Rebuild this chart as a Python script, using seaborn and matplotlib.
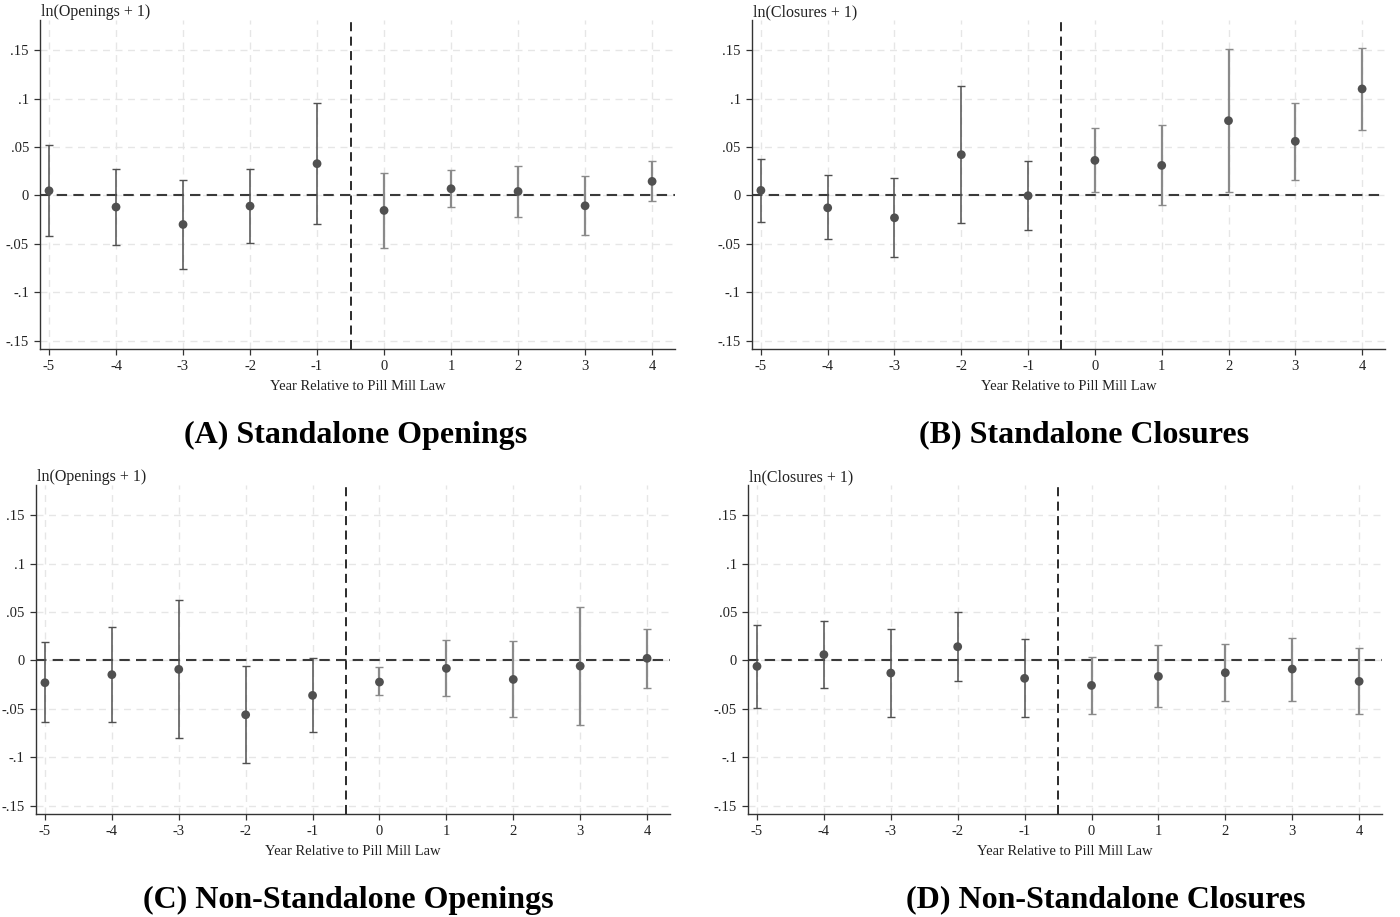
import numpy as np
import pandas as pd
import matplotlib
matplotlib.use("Agg")
import matplotlib.pyplot as plt
import seaborn as sns

# Event-time coefficients with 95% confidence bounds
years = [-5, -4, -3, -2, -1, 0, 1, 2, 3, 4]
year_labels = ["-5", "-4", "-3", "-2", "-1", "0", "1", "2", "3", "4"]

a_coef = [0.0048, -0.0120, -0.0300, -0.0110, 0.0328, -0.0155, 0.0069, 0.0041, -0.0107, 0.0145]
a_upper = [0.0517, 0.0276, 0.0162, 0.0276, 0.0955, 0.0234, 0.0259, 0.0303, 0.0200, 0.0355]
a_lower = [-0.0424, -0.0517, -0.0759, -0.0493, -0.0297, -0.0541, -0.0117, -0.0224, -0.0407, -0.0062]

b_coef = [0.0052, -0.0128, -0.0231, 0.0421, -0.0003, 0.0362, 0.0310, 0.0772, 0.0559, 0.1100]
b_upper = [0.0379, 0.0207, 0.0183, 0.1134, 0.0355, 0.0697, 0.0724, 0.1510, 0.0952, 0.1520]
b_lower = [-0.0276, -0.0452, -0.0641, -0.0286, -0.0355, 0.0034, -0.0103, 0.0034, 0.0162, 0.0679]

c_coef = [-0.0231, -0.0148, -0.0093, -0.0562, -0.0362, -0.0224, -0.0083, -0.0197, -0.0059, 0.0021]
c_upper = [0.0190, 0.0341, 0.0624, -0.0055, 0.0024, -0.0072, 0.0210, 0.0197, 0.0552, 0.0328]
c_lower = [-0.0641, -0.0634, -0.0803, -0.1062, -0.0745, -0.0362, -0.0369, -0.0583, -0.0666, -0.0283]

d_coef = [-0.0062, 0.0059, -0.0131, 0.0141, -0.0186, -0.0259, -0.0166, -0.0128, -0.0090, -0.0217]
d_upper = [0.0369, 0.0403, 0.0328, 0.0503, 0.0217, 0.0038, 0.0155, 0.0169, 0.0234, 0.0124]
d_lower = [-0.0490, -0.0283, -0.0583, -0.0217, -0.0586, -0.0552, -0.0483, -0.0421, -0.0417, -0.0552]

y_ticks = [-0.15, -0.10, -0.05, 0.0, 0.05, 0.10, 0.15]
y_tick_labels = ["-.15", "-.1", "-.05", "0", ".05", ".1", ".15"]

panels = [
    ("ln(Openings + 1)", "(A) Standalone Openings", a_coef, a_lower, a_upper),
    ("ln(Closures + 1)", "(B) Standalone Closures", b_coef, b_lower, b_upper),
    ("ln(Openings + 1)", "(C) Non-Standalone Openings", c_coef, c_lower, c_upper),
    ("ln(Closures + 1)", "(D) Non-Standalone Closures", d_coef, d_lower, d_upper),
]

sns.set_theme(style="white")
plt.rcParams["font.family"] = ["Liberation Serif", "DejaVu Serif"]

fig = plt.figure(figsize=(14, 9.17), dpi=100)

# axes rectangles [left, bottom, width, height] in figure fractions
rects = [
    [0.0286, 0.619, 0.4536, 0.359],
    [0.5371, 0.619, 0.4522, 0.359],
    [0.0257, 0.112, 0.4529, 0.359],
    [0.5343, 0.112, 0.4529, 0.359],
]
title_pos = [(0.254, 0.5255), (0.774, 0.5255), (0.249, 0.0185), (0.790, 0.0185)]

pre_color = "#505050"
post_color = "#8a8a8a"
grid_color = "#e6e6e6"

for rect, (ylab, title, coef, lower, upper), tpos in zip(rects, panels, title_pos):
    ax = fig.add_axes(rect)
    df = pd.DataFrame({"year": years, "coef": coef, "lower": lower, "upper": upper})
    df["period"] = np.where(df["year"] < 0, "pre", "post")

    ax.set_xlim(-5.134, 4.343)
    ax.set_ylim(-0.159, 0.181)

    # light dashed grid at every tick
    for yv in y_ticks:
        ax.axhline(yv, color=grid_color, lw=1.0, ls=(0, (5, 4)), zorder=0)
    for xv in years:
        ax.axvline(xv, color=grid_color, lw=1.0, ls=(0, (5, 4)), zorder=0)

    ax.axhline(0, color="#3a3a3a", lw=1.5, ls=(0, (5, 3)), zorder=1)
    ax.axvline(-0.5, color="#1a1a1a", lw=1.3, ls=(0, (5, 3)), zorder=1)

    for period, color, lw in [("pre", pre_color, 1.1), ("post", post_color, 1.6)]:
        sub = df[df["period"] == period]
        yerr = np.vstack([sub["coef"] - sub["lower"], sub["upper"] - sub["coef"]])
        ax.errorbar(sub["year"], sub["coef"], yerr=yerr, fmt="none",
                    ecolor=color, elinewidth=lw, capsize=3, capthick=1.0, zorder=2)

    sns.scatterplot(data=df, x="year", y="coef", ax=ax, color="#505050",
                    s=40, edgecolor="none", zorder=3, legend=False)

    ax.set_xticks(years)
    ax.set_xticklabels(year_labels)
    ax.set_yticks(y_ticks)
    ax.set_yticklabels(y_tick_labels)
    ax.tick_params(axis="both", direction="out", length=4, width=0.9,
                   color="#333333", labelsize=10.5, labelcolor="#222222", pad=4,
                   left=True, bottom=True)
    ax.set_xlabel("Year Relative to Pill Mill Law", fontsize=10.5, color="#222222", labelpad=5)
    ax.set_ylabel("")
    ax.text(0.002, 1.024, ylab, transform=ax.transAxes, ha="left", va="center",
            fontsize=11.5, color="#222222")

    for side in ["top", "right"]:
        ax.spines[side].set_visible(False)
    for side in ["left", "bottom"]:
        ax.spines[side].set_color("#333333")
        ax.spines[side].set_linewidth(1.0)
    ax.set_facecolor("white")

    fig.text(tpos[0], tpos[1], title, ha="center", va="center",
             fontsize=23, fontweight="bold", color="black")

fig.savefig("out.png", dpi=100, facecolor="white")
